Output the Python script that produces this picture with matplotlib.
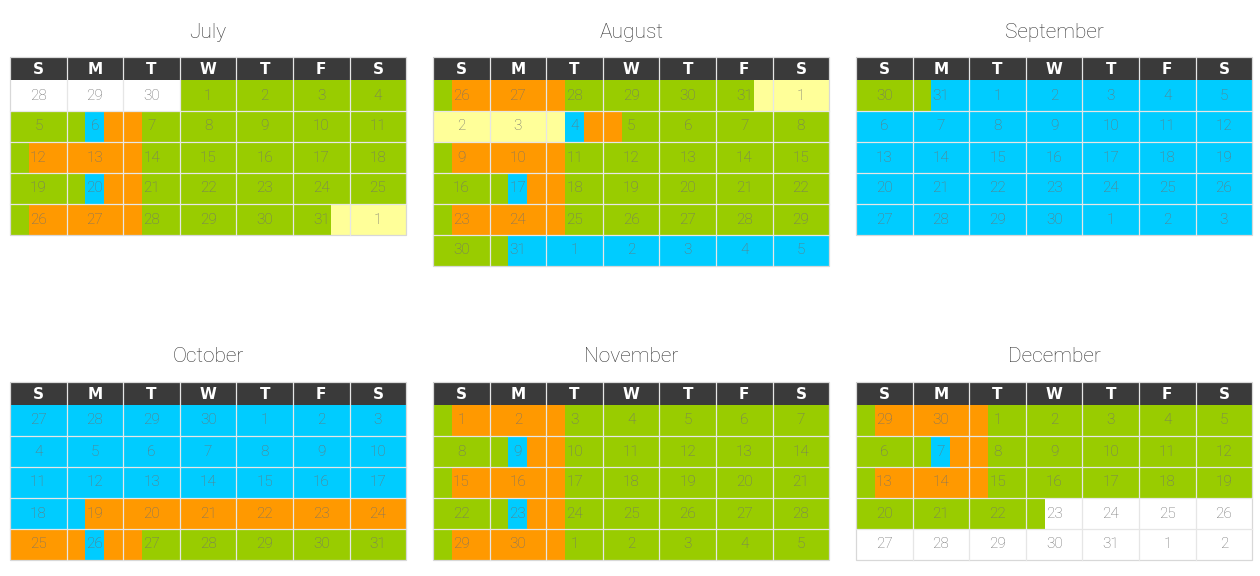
import calendar
import matplotlib.pyplot as plt
from matplotlib.patches import Rectangle

COLORS = {'G': '#99cc00', 'O': '#ff9900', 'B': '#00ccff', 'Y': '#ffff99', 'W': '#ffffff'}
HEADER_COLOR = '#3a3a3a'
TEXT_COLOR = '#707070'

YEAR = 2015
months = [7, 8, 9, 10, 11, 12]
month_names = ["July", "August", "September", "October", "November", "December"]
weekdays = ["S", "M", "T", "W", "T", "F", "S"]

# each day split into thirds, one colour letter per third
G7 = ["GGG"] * 7
B7 = ["BBB"] * 7
W7 = ["WWW"] * 7
schedules = [
    [["WWW", "WWW", "WWW", "GGG", "GGG", "GGG", "GGG"],
     ["GGG", "GBO", "OGG", "GGG", "GGG", "GGG", "GGG"],
     ["GOO", "OOO", "OGG", "GGG", "GGG", "GGG", "GGG"],
     ["GGG", "GBO", "OGG", "GGG", "GGG", "GGG", "GGG"],
     ["GOO", "OOO", "OGG", "GGG", "GGG", "GGY", "YYY"]],
    [["GOO", "OOO", "OGG", "GGG", "GGG", "GGY", "YYY"],
     ["YYY", "YYY", "YBO", "OGG", "GGG", "GGG", "GGG"],
     ["GOO", "OOO", "OGG", "GGG", "GGG", "GGG", "GGG"],
     ["GGG", "GBO", "OGG", "GGG", "GGG", "GGG", "GGG"],
     ["GOO", "OOO", "OGG", "GGG", "GGG", "GGG", "GGG"],
     ["GGG", "GBB", "BBB", "BBB", "BBB", "BBB", "BBB"]],
    [["GGG", "GBB", "BBB", "BBB", "BBB", "BBB", "BBB"],
     B7, B7, B7, B7],
    [B7, B7, B7,
     ["BBB", "BOO", "OOO", "OOO", "OOO", "OOO", "OOO"],
     ["OOO", "OBO", "OGG", "GGG", "GGG", "GGG", "GGG"]],
    [["GOO", "OOO", "OGG", "GGG", "GGG", "GGG", "GGG"],
     ["GGG", "GBO", "OGG", "GGG", "GGG", "GGG", "GGG"],
     ["GOO", "OOO", "OGG", "GGG", "GGG", "GGG", "GGG"],
     ["GGG", "GBO", "OGG", "GGG", "GGG", "GGG", "GGG"],
     ["GOO", "OOO", "OGG", "GGG", "GGG", "GGG", "GGG"]],
    [["GOO", "OOO", "OGG", "GGG", "GGG", "GGG", "GGG"],
     ["GGG", "GBO", "OGG", "GGG", "GGG", "GGG", "GGG"],
     ["GOO", "OOO", "OGG", "GGG", "GGG", "GGG", "GGG"],
     ["GGG", "GGG", "GGG", "GWW", "WWW", "WWW", "WWW"],
     W7],
]

lefts = [10, 433, 856]
tops = [57, 382]
CELL_W = 56.6
CELL_H = 31
HEAD_H = 23

fig = plt.figure(figsize=(12.6, 5.76), dpi=100)
ax = fig.add_axes([0, 0, 1, 1])
ax.set_xlim(0, 1260)
ax.set_ylim(576, 0)
ax.axis('off')

cal = calendar.Calendar(firstweekday=6)
for i, (month, name, sched) in enumerate(zip(months, month_names, schedules)):
    x0 = lefts[i % 3]
    y0 = tops[i // 3]
    width = 7 * CELL_W
    ax.text(x0 + width / 2, y0 - 25, name, ha='center', va='center', fontsize=15,
            color='#333333', family='Roboto', fontweight='light')
    ax.add_patch(Rectangle((x0, y0), width, HEAD_H, color=HEADER_COLOR, lw=0))
    for c, wd in enumerate(weekdays):
        ax.text(x0 + (c + 0.5) * CELL_W, y0 + HEAD_H / 2 + 1, wd, ha='center', va='center',
                fontsize=11, color='white', fontweight='bold', family='DejaVu Sans')
    weeks = cal.monthdatescalendar(YEAR, month)
    ytop = y0 + HEAD_H
    for r, (week, row) in enumerate(zip(weeks, sched)):
        y = ytop + r * CELL_H
        for c, (day, code) in enumerate(zip(week, row)):
            x = x0 + c * CELL_W
            for k, letter in enumerate(code):
                ax.add_patch(Rectangle((x + k * CELL_W / 3, y), CELL_W / 3 + 0.3, CELL_H,
                                       color=COLORS[letter], lw=0))
            ax.text(x + CELL_W / 2, y + CELL_H / 2, str(day.day), ha='center', va='center',
                    fontsize=11, color=TEXT_COLOR, family='Roboto', fontweight='light')
    nrows = len(weeks)
    bottom = ytop + nrows * CELL_H
    for c in range(1, 7):
        ax.plot([x0 + c * CELL_W] * 2, [y0, bottom], color='#e6e6e6', lw=0.9)
    for r in range(1, nrows):
        ax.plot([x0, x0 + width], [ytop + r * CELL_H] * 2, color='#e6e6e6', lw=0.9)
    ax.add_patch(Rectangle((x0, y0), width, bottom - y0, fill=False, ec='#d8d8d8', lw=0.9))

fig.savefig('out.png', dpi=100)
